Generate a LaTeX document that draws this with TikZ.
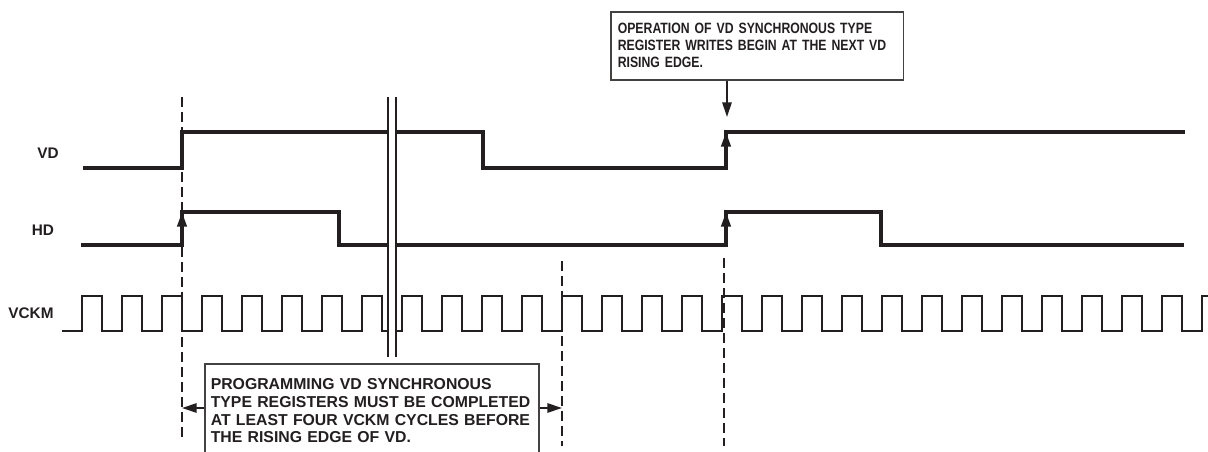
\documentclass[tikz,border=0pt]{standalone}
\usepackage{fontspec}
\setmainfont{Liberation Sans}
\newfontfamily\narrowsans[FakeStretch=0.82, BoldFeatures={FakeStretch=0.82}]{Liberation Sans}
\usetikzlibrary{positioning, arrows.meta, calc}

\definecolor{inkdark}{HTML}{231F20}

\begin{document}
\begin{tikzpicture}[
    x=0.75pt,
    y=-0.75pt,
    >={Triangle[length=11pt, width=7pt]},
    wave/.style={
        draw=inkdark,
        line width=2.4pt,
        line join=miter
    },
    clock/.style={
        wave,
        line width=2.1pt
    },
    guide/.style={
        draw=inkdark,
        line width=1.2pt,
        dash pattern=on 7.5pt off 3.75pt
    },
    cut/.style={
        draw=inkdark,
        line width=1pt
    },
    signame/.style={
        text=inkdark,
        inner sep=0pt,
        font=\bfseries\fontsize{11.5pt}{13pt}\selectfont
    },
    note/.style={
        rectangle,
        draw=inkdark!85,
        line width=1.2pt,
        fill=white,
        text=inkdark,
        align=left,
        anchor=north west
    },
    marker/.style={
        ->,
        draw=inkdark,
        line width=1.4pt
    }
]

    \useasboundingbox (0,0) rectangle (1208,452);
    \clip (0,0) rectangle (1208,452);

    % Signal names
    \node[signame] (vdname) at (48,153) {VD};
    \node[signame] (hdname) at (43,230) {HD};
    \node[signame] (vckmname) at (31,313) {VCKM};

    % VD and HD
    \draw[wave] (83,168) -- (182,168) -- (182,132) -- (483,132) -- (483,168)
        -- (726,168) -- (726,132) -- (1185,132);
    \draw[wave] (81,245) -- (182,245) -- (182,212) -- (339,212) -- (339,245)
        -- (726,245) -- (726,212) -- (881,212) -- (881,245) -- (1184,245);

    % VCKM
    \draw[clock] (62,331) -- (82,331)
        \foreach \k in {1,...,28} { -- ++(0,-35) -- ++(20,0) -- ++(0,35) -- ++(20,0) }
        -- ++(0,-35) -- ++(8,0);

    % Rising edges
    \draw[wave, ->] (182,245) -- (182,212);
    \draw[wave, ->] (726,245) -- (726,212);
    \draw[wave, ->] (726,168) -- (726,132);

    % Time break
    \fill[white] (388,97) rectangle (396,357);
    \draw[cut] (388,97) -- (388,357);
    \draw[cut] (396,97) -- (396,357);

    % Guides
    \draw[guide] (182,97) -- (182,440);
    \draw[guide] (562,261) -- (562,446);
    \draw[guide] (724,258) -- (724,446);

    % Notes
    \node[note, text width=209pt, minimum height=51pt, inner xsep=5.25pt,
          font=\narrowsans\bfseries\fontsize{11.2pt}{12.75pt}\selectfont]
        (opnote) at (610,11)
        {OPERATION OF VD SYNCHRONOUS TYPE\\REGISTER WRITES BEGIN AT THE NEXT VD\\RISING EDGE.};

    \node[note, text width=241.5pt, inner xsep=4.5pt, inner ysep=11pt,
          font=\bfseries\fontsize{11.85pt}{13.35pt}\selectfont]
        (prognote) at (204,363)
        {PROGRAMMING VD SYNCHRONOUS\\TYPE REGISTERS MUST BE COMPLETED\\AT LEAST FOUR VCKM CYCLES BEFORE\\THE RISING EDGE OF VD.};

    % Markers
    \coordinate (vdedge) at (727,117);
    \coordinate (startmark) at (182,408);
    \coordinate (endmark) at (562,408);
    \draw[marker] (opnote.south -| vdedge) -- (vdedge);
    \draw[marker] (prognote.west |- startmark) -- (startmark);
    \draw[marker] (prognote.east |- endmark) -- (endmark);

\end{tikzpicture}
\end{document}
